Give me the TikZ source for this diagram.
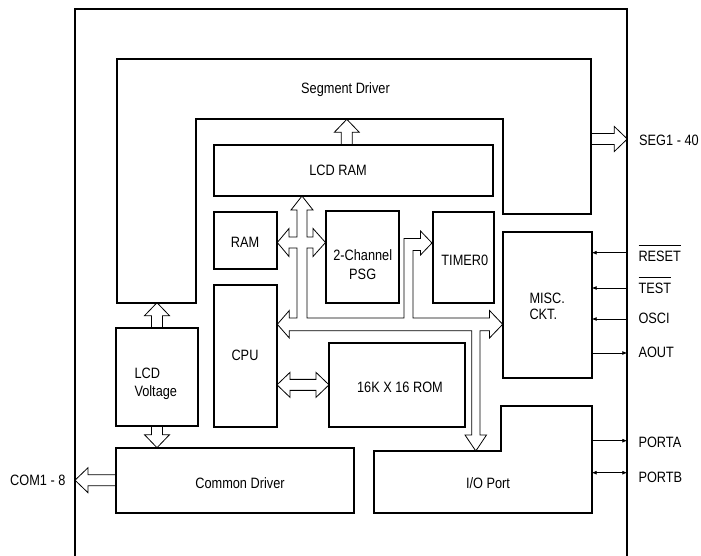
\documentclass[tikz,border=0pt]{standalone}
\usepackage{fontspec}
\setmainfont{Liberation Sans}[FakeStretch=0.85]
\usetikzlibrary{calc, arrows.meta}

% hollow bus arrow from #1 to #2 (head at #2)
\newcommand{\fatarrow}[2]{%
  \coordinate (fb) at ($(#2)!13pt!(#1)$);
  \draw[fat] ($(#1)!5.5pt!90:(#2)$) -- ($(fb)!5.5pt!90:(#2)$)
    -- ($(fb)!12.5pt!90:(#2)$) -- (#2)
    -- ($(fb)!12.5pt!-90:(#2)$) -- ($(fb)!5.5pt!-90:(#2)$)
    -- ($(#1)!5.5pt!-90:(#2)$);}
% hollow bus arrow with heads at both ends
\newcommand{\fatdarrow}[2]{%
  \coordinate (fa) at ($(#1)!13pt!(#2)$);
  \coordinate (fb) at ($(#2)!13pt!(#1)$);
  \draw[fat] (#1) -- ($(fa)!12.5pt!90:(#2)$) -- ($(fa)!5.5pt!90:(#2)$)
    -- ($(fb)!5.5pt!90:(#2)$) -- ($(fb)!12.5pt!90:(#2)$) -- (#2)
    -- ($(fb)!12.5pt!-90:(#2)$) -- ($(fb)!5.5pt!-90:(#2)$)
    -- ($(fa)!5.5pt!-90:(#2)$) -- ($(fa)!12.5pt!-90:(#2)$) -- cycle;}
% active-low pin name
\newcommand{\ovl}[1]{\leavevmode\vbox{\hrule height 0.8pt\kern 5pt\hbox{#1}}}

\begin{document}
\begin{tikzpicture}[x=1pt, y=-1pt,
    blk/.style={draw, line width=2pt, inner sep=0pt, outer sep=0pt},
    wall/.style={line width=2pt},
    fat/.style={draw, line width=0.8pt},
    sig/.style={line width=0.8pt, -{Latex[length=5pt, width=4pt]}},
    txt/.style={inner sep=0pt, anchor=base, font=\fontsize{15}{18}\selectfont},
    lft/.style={txt, anchor=base west}]
  \useasboundingbox (0,0) rectangle (701,556);

  % chip outline
  \coordinate (chipnw) at (75,9);
  \coordinate (chipne) at (627.3,9);
  \draw[wall] (75,556) -- (chipnw) -- (chipne) -- (627.3,556);

  % Segment driver
  \coordinate (segin) at (196,119.3);
  \coordinate (segbl) at (116.7,302.7);
  \coordinate (segr) at (591,139);
  \draw[wall] (116.7,59) -- (591,59) -- (591,214.3) -- (503.3,214.3)
    -- (503.3,119.3) -- (segin) -- (196,302.7) -- (segbl) -- cycle;
  \node[txt] (segt) at (345.5,94) {Segment Driver};

  % I/O port
  \coordinate (ione) at (591.7,406);
  \draw[wall] (374,451) -- (500.7,451) -- (500.7,406) -- (ione)
    -- (591.7,512.7) -- (374,512.7) -- cycle;
  \node[txt] (iot) at (488,488.3) {I/O Port};

  % blocks
  \node[blk, minimum width=279pt, minimum height=50.7pt] (lcdram) at (353.8,170.35) {};
  \node[blk, minimum width=63.3pt, minimum height=57.6pt] (ram) at (245.65,240.5) {};
  \node[blk, minimum width=73pt, minimum height=92pt] (psg) at (362.5,256.7) {};
  \node[blk, minimum width=61.3pt, minimum height=91pt] (timer) at (463.35,257.2) {};
  \node[blk, minimum width=63pt, minimum height=142pt] (cpu) at (245.5,356) {};
  \node[blk, minimum width=89pt, minimum height=145.7pt] (misc) at (547.2,304.85) {};
  \node[blk, minimum width=82pt, minimum height=98pt] (lcdv) at (157,377) {};
  \node[blk, minimum width=136pt, minimum height=83.7pt] (rom) at (397,384.85) {};
  \node[blk, minimum width=238pt, minimum height=65pt] (comdrv) at (235,480.2) {};

  \node[txt] (lcdramt) at (338,175.3) {LCD RAM};
  \node[txt] (ramt) at (245,247.3) {RAM};
  \node[txt] (psgt1) at (362.7,260.7) {2-Channel};
  \node[txt] (psgt2) at (362.7,279.3) {PSG};
  \node[txt] (timert) at (464.8,265) {TIMER0};
  \node[txt] (cput) at (245,360.7) {CPU};
  \node[txt] (romt) at (400,392.7) {16K X 16 ROM};
  \node[lft] (misct1) at (529.3,303.3) {MISC.};
  \node[lft] (misct2) at (529.3,319) {CKT.};
  \node[lft] (lcdvt1) at (134.3,378.3) {LCD};
  \node[lft] (lcdvt2) at (134.3,396) {Voltage};
  \node[txt] (comt) at (240,488.3) {Common Driver};

  % internal bus
  \draw[fat] (302,196) -- (313,210) -- (307,210) -- (307,237) -- (313,237)
    -- (313,228.5) -- (325.5,242.5) -- (313,256.5) -- (313,248) -- (307,248)
    -- (307,318) -- (404,318) -- (404,238.5) -- (420.5,238.5) -- (420.5,231)
    -- (432,243) -- (420.5,255) -- (420.5,250.5) -- (413,250.5) -- (413,318)
    -- (489.5,318) -- (489.5,310.5) -- (502.7,324.3) -- (489.5,338)
    -- (489.5,330.7) -- (480,330.7) -- (480,435) -- (486.5,435)
    -- (475.8,451) -- (465,435) -- (471.7,435) -- (471.7,330.7)
    -- (289.3,330.7) -- (289.3,338) -- (277.3,324.3) -- (289.3,310.5)
    -- (289.3,318) -- (297,318) -- (297,248) -- (289,248) -- (289,256.5)
    -- (277.3,242.5) -- (289,228.5) -- (289,237) -- (297,237) -- (297,210)
    -- (291,210) -- cycle;

  % hollow arrows
  \coordinate (ramup) at ($(lcdram.north)+(-7,0)$);
  \coordinate (ramtop) at (ramup |- segin);
  \fatarrow{ramup}{ramtop}
  \coordinate (lvtop) at (lcdv.north |- segbl);
  \fatarrow{lcdv.north}{lvtop}
  \coordinate (lvbot) at (lcdv.south |- comdrv.north);
  \fatarrow{lcdv.south}{lvbot}
  \coordinate (cpurom) at (cpu.east |- rom.west);
  \fatdarrow{cpurom}{rom.west}
  \coordinate (segout) at (segr -| chipne);
  \fatarrow{segr}{segout}
  \coordinate (comout) at (comdrv.west -| chipnw);
  \fatarrow{comdrv.west}{comout}

  % pins
  \node[lft] (segl) at (639,145.5) {SEG1 - 40};
  \node[txt, anchor=base east] (coml) at (65.7,485.7) {COM1 - 8};

  \coordinate (rst) at (627.3,252.7);
  \coordinate (tst) at (627.3,288);
  \coordinate (osc) at (627.3,319);
  \coordinate (aout) at (627.3,353);
  \coordinate (pa) at (627.3,440.7);
  \coordinate (pb) at (627.3,472.7);
  \draw[sig] (rst) -- (rst -| misc.east);
  \draw[sig] (tst) -- (tst -| misc.east);
  \draw[sig] (osc) -- (osc -| misc.east);
  \draw[sig] (aout -| misc.east) -- (aout);
  \draw[sig] (pa -| ione) -- (pa);
  \draw[sig, {Latex[length=5pt, width=4pt]}-{Latex[length=5pt, width=4pt]}] (pb -| ione) -- (pb);

  \node[lft] (rstl) at (638.3,261.7) {\ovl{RESET}};
  \node[lft] (tstl) at (638.3,293) {\ovl{TEST}};
  \node[lft] (oscl) at (638.3,323) {OSCI};
  \node[lft] (aoutl) at (638.3,357.7) {AOUT};
  \node[lft] (pal) at (638.3,447.3) {PORTA};
  \node[lft] (pbl) at (638.3,482.7) {PORTB};
\end{tikzpicture}
\end{document}
